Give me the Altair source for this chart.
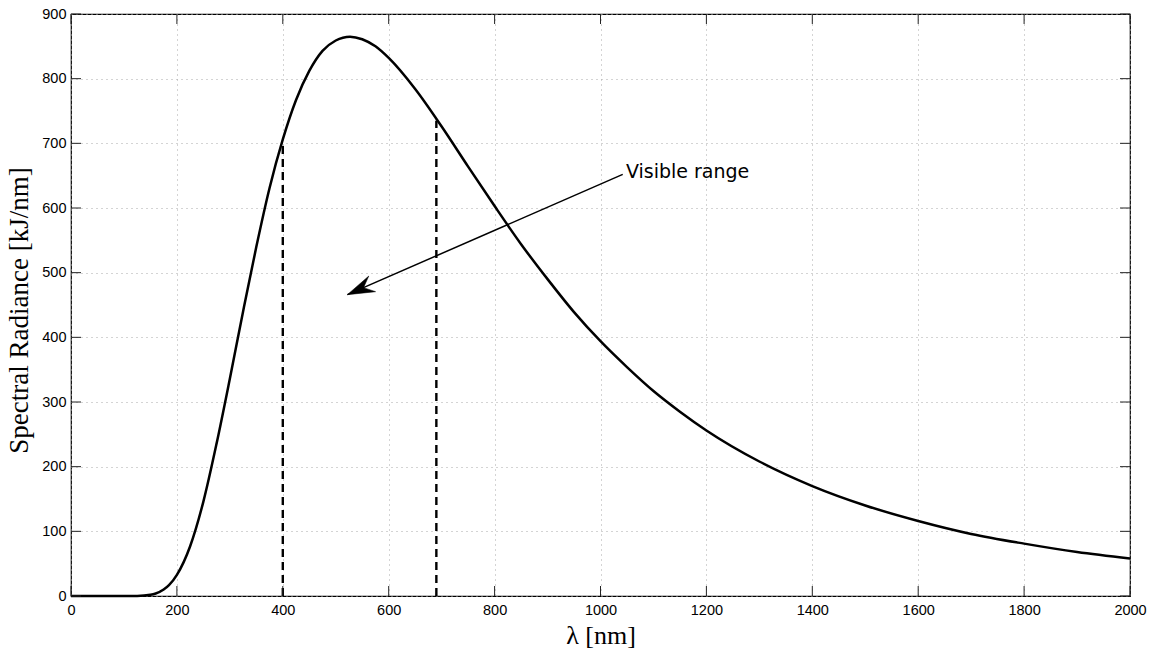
import altair as alt
import pandas as pd

# ---- data ----
lam = [0, 50, 100, 125, 150, 160, 175, 185, 200, 225, 250, 275, 300, 325, 350,
       375, 400, 425, 450, 475, 500, 527, 550, 575, 600, 650, 700, 750, 800,
       850, 900, 950, 1000, 1050, 1100, 1150, 1200, 1300, 1400, 1500, 1600,
       1700, 1800, 1900, 2000]
rad = [0, 0, 0, 0.1, 1.8, 3.8, 9.9, 16.7, 32.7, 77, 146, 236, 336, 440, 540,
       631, 706, 767, 812, 843, 859, 865, 861, 850, 832, 784, 726, 664, 603,
       544, 490, 439, 394, 354, 317, 285, 256, 208, 170, 140, 116, 96, 81,
       68, 58]

visible_lam = [400, 690]
visible_top = [700, 735]

arrow_from = [1042, 652]
arrow_tip = [522, 466]
label_pos = [1048, 647]
label_text = "Visible range"

x_ticks = [0, 200, 400, 600, 800, 1000, 1200, 1400, 1600, 1800, 2000]
y_ticks = [0, 100, 200, 300, 400, 500, 600, 700, 800, 900]

W, H = 1059, 582

curve_df = pd.DataFrame({"lam": lam, "rad": rad})
vis_df = pd.DataFrame({"lam": visible_lam, "top": visible_top, "zero": [0, 0]})
arrow_df = pd.DataFrame({"lam": [arrow_from[0]], "rad": [arrow_from[1]],
                         "x2": [arrow_tip[0]], "y2": [arrow_tip[1]]})
tip_df = pd.DataFrame({"lam": [arrow_tip[0]], "rad": [arrow_tip[1]]})
label_df = pd.DataFrame({"lam": [label_pos[0]], "rad": [label_pos[1]], "t": [label_text]})
xt_df = pd.DataFrame({"lam": x_ticks})
yt_df = pd.DataFrame({"rad": y_ticks})

xs = alt.Scale(domain=[0, 2000], nice=False, zero=False)
ys = alt.Scale(domain=[0, 900], nice=False, zero=False)

grid_kw = dict(grid=True, gridDash=[1, 4], gridColor="#a8a8a8", gridWidth=1)

x_axis = alt.Axis(values=x_ticks, tickSize=0, labelPadding=7, labelFont="Liberation Sans",
                  labelFontSize=14.5, labelColor="#000", labelFlush=False, domain=False,
                  title="λ [nm]", titleFont="Liberation Serif", titleFontSize=26,
                  titleFontWeight="normal", titleColor="#000", titleX=W / 2,
                  titleY=47, titleBaseline="alphabetic", titleAlign="center",
                  format="d", **grid_kw)
y_axis = alt.Axis(values=y_ticks, tickSize=0, labelPadding=5, labelFont="Liberation Sans",
                  labelFontSize=14.5, labelColor="#000", labelFlush=False, domain=False,
                  title="Spectral Radiance [kJ/nm]", titleFont="Liberation Serif",
                  titleFontSize=27, titleFontWeight="normal", titleColor="#000",
                  titleAngle=270, titleX=-43.6, titleY=296,
                  titleBaseline="alphabetic", titleAlign="center", format="d",
                  **grid_kw)

X = alt.X("lam:Q", scale=xs, axis=x_axis, title="λ [nm]")
Y = alt.Y("rad:Q", scale=ys, axis=y_axis, title="Spectral Radiance [kJ/nm]")

curve = alt.Chart(curve_df).mark_line(color="black", strokeWidth=2.5,
                                      interpolate="monotone").encode(x=X, y=Y)

vis = alt.Chart(vis_df).mark_rule(color="black", strokeWidth=2.4,
                                  strokeDash=[8, 5]).encode(
    x=X,
    y=alt.Y("zero:Q", scale=ys, axis=y_axis, title="Spectral Radiance [kJ/nm]"),
    y2="top:Q",
)

arrow_line = alt.Chart(arrow_df).mark_rule(color="black", strokeWidth=1.5).encode(
    x=X, y=Y, x2="x2:Q", y2="y2:Q",
)

head_path = "M0,0 L0.63,2 L0,1.3 L-0.63,2 Z"
arrow_head = alt.Chart(tip_df).mark_point(shape=head_path, size=729, angle=246.5,
                                          filled=True, fill="black", stroke="black",
                                          strokeWidth=0.5, opacity=1).encode(x=X, y=Y)

label = alt.Chart(label_df).mark_text(font="DejaVu Sans", fontSize=19, align="left",
                                      baseline="alphabetic", color="black").encode(
    x=X, y=Y, text="t:N",
)

tick_color = "#222"
bt = alt.Chart(xt_df).mark_rule(color=tick_color, strokeWidth=1).encode(
    x=X, y=alt.value(H), y2=alt.value(H - 10))
tt = alt.Chart(xt_df).mark_rule(color=tick_color, strokeWidth=1).encode(
    x=X, y=alt.value(0), y2=alt.value(10))
lt = alt.Chart(yt_df).mark_rule(color=tick_color, strokeWidth=1).encode(
    y=Y, x=alt.value(0), x2=alt.value(10))
rt = alt.Chart(yt_df).mark_rule(color=tick_color, strokeWidth=1).encode(
    y=Y, x=alt.value(W), x2=alt.value(W - 10))

chart = alt.layer(curve, vis, arrow_line, arrow_head, label, bt, tt, lt, rt).properties(
    width=W, height=H,
    padding={"left": 71, "top": 14, "right": 27, "bottom": 58},
    autosize=alt.AutoSizeParams(type="none"),
    background="white",
).configure_view(stroke="black", strokeWidth=1.2)

chart.save("out.html", embed_options={"renderer": "svg", "actions": False})
